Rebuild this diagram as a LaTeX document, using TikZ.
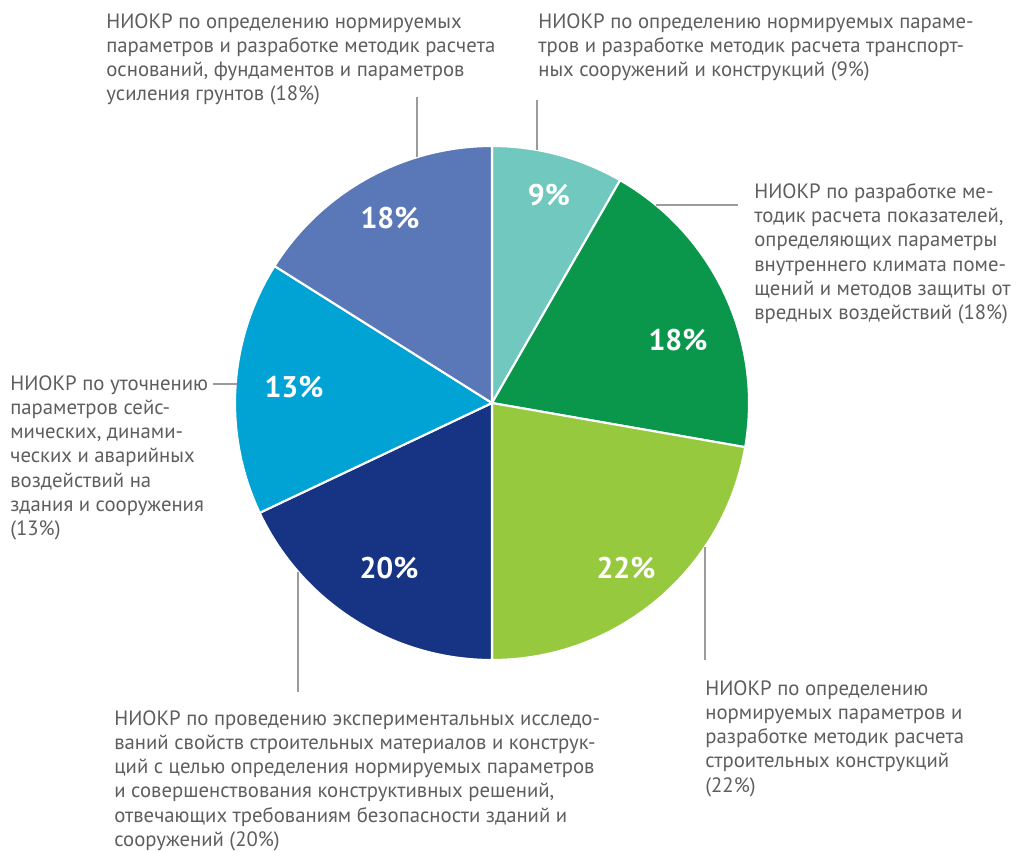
\documentclass[tikz,border=0pt]{standalone}
\usepackage{fontspec}
\setmainfont{PT Sans}
\usepackage{tikz}
\definecolor{txtgray}{HTML}{5D5E60}
\definecolor{lblgray}{HTML}{9A9B9D}
\definecolor{tealpie}{HTML}{70C8BF}
\definecolor{greenpie}{HTML}{0A974B}
\definecolor{limepie}{HTML}{96C93D}
\definecolor{navypie}{HTML}{163483}
\definecolor{cyanpie}{HTML}{00A3D3}
\definecolor{bluepie}{HTML}{5A78B8}
\tikzstyle{caption}=[anchor=north west,inner sep=0pt,align=left,text=txtgray,
  font=\fontsize{11.8}{13.8}\selectfont]
\tikzstyle{pct}=[text=white,inner sep=0pt,font=\fontsize{17}{17}\selectfont\bfseries]
\tikzstyle{leader}=[draw=lblgray,line width=0.6pt]

\begin{document}
\begin{tikzpicture}[x=0.02cm, y=0.02cm]
  \useasboundingbox (-492,-448) rectangle (524,403);

  % slices, clockwise from the top
  \foreach \a/\b/\c in {90/60.1/tealpie, 60.1/-9.9/greenpie, -9.9/-90/limepie,
      -90/-154.7/navypie, -154.7/-212.2/cyanpie, -212.2/-270/bluepie}
    \filldraw[fill=\c, draw=white, line width=1.2pt, line join=round]
      (0,0) -- (\a:257) arc[start angle=\a, end angle=\b, radius=257] -- cycle;

  \node[pct] (p1) at (57,208) {9\%};
  \node[pct] (p2) at (186,63) {18\%};
  \node[pct] (p3) at (134,-165) {22\%};
  \node[pct] (p4) at (-103,-165) {20\%};
  \node[pct] (p5) at (-198,16) {13\%};
  \node[pct] (p6) at (-102,185) {18\%};

  \node[caption] (c6) at (-386,390) {НИОКР по определению нормируемых\\
    параметров и разработке методик расчета\\оснований, фундаментов и параметров\\
    усиления грунтов (18\%)};
  \node[caption] (c1) at (46,390) {НИОКР по определению нормируемых параме-\\
    тров и разработке методик расчета транспорт-\\ных сооружений и конструкций (9\%)};
  \node[caption] (c2) at (262,220) {НИОКР по разработке ме-\\тодик расчета показателей,\\
    определяющих параметры\\внутреннего климата поме-\\щений и методов защиты от\\
    вредных воздействий (18\%)};
  \node[caption] (c5) at (-482,28) {НИОКР по уточнению\\параметров сейс-\\мических, динами-\\
    ческих и аварийных\\воздействий на\\здания и сооружения\\(13\%)};
  \node[caption] (c4) at (-378,-307) {НИОКР по проведению экспериментальных исследо-\\
    ваний свойств строительных материалов и конструк-\\
    ций с целью определения нормируемых параметров\\
    и совершенствования конструктивных решений,\\
    отвечающих требованиям безопасности зданий и\\сооружений (20\%)};
  \node[caption] (c3) at (213,-277) {НИОКР по определению\\нормируемых параметров и\\
    разработке методик расчета\\строительных конструкций\\(22\%)};

  % leader lines
  \coordinate (e6) at (-75,245.8);  \coordinate (t6) at (-75,306);
  \coordinate (e1) at (45,253);     \coordinate (t1) at (45,303);
  \coordinate (e2) at (163.8,198);  \coordinate (t2) at (246,198);
  \coordinate (e5) at (-255.4,19);  \coordinate (t5) at (-279,19);
  \coordinate (e4) at (-194,-168.6); \coordinate (t4) at (-194,-289);
  \coordinate (e3) at (213,-143.8); \coordinate (t3) at (213,-257);
  \draw[leader] (e6) -- (t6) (e1) -- (t1) (e2) -- (t2);
  \draw[leader] (e5) -- (t5) (e4) -- (t4) (e3) -- (t3);
\end{tikzpicture}
\end{document}
